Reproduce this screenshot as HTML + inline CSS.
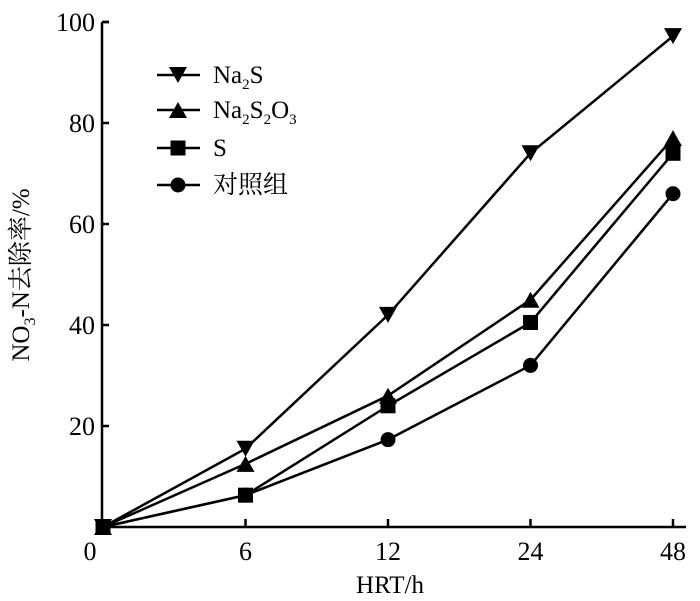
<!DOCTYPE html>
<html><head><meta charset="utf-8"><style>
body{margin:0;background:#fff}
svg{display:block}
text,tspan{font-family:"Liberation Serif","Noto Serif CJK SC",serif}
</style></head><body>
<svg id="chart" width="700" height="601" viewBox="0 0 700 601"></svg>
<script>
const categories=["0","6","12","24","48"];
const yTicks=[20,40,60,80,100];
const na2s=[0,15.5,42,74,97.2];
const na2s2o3=[0,12.5,26,45,77];
const sulfur=[0,6.3,24,40.5,74];
const control=[0,6.3,17.3,32,66];
const names=["Na2S","Na2S2O3","S","对照组"];
const svg=document.getElementById('chart');
const NS="http://www.w3.org/2000/svg";
const FF='"Liberation Serif","Noto Serif CJK SC",serif';
const X0=102,Y0=527;
function xs(i){return 103+i*142.5;}
function ys(v){return Y0-v*5.05;}
function mk(t,a,p){const e=document.createElementNS(NS,t);for(const k in a)e.setAttribute(k,a[k]);if(t=='text')e.setAttribute('font-family',FF);(p||svg).appendChild(e);return e;}
let ax=mk('path',{d:`M${X0} ${ys(100)}H109M${X0} ${ys(100)}V${Y0}H686`,stroke:'#000','stroke-width':2.5,fill:'none'});


yTicks.forEach(v=>{
 const t=mk('line',{x1:X0,x2:109,y1:ys(v),y2:ys(v),stroke:'#000','stroke-width':2.5});
 
 
 const l=mk('text',{x:95,y:ys(v)+9,'text-anchor':'end','font-size':26});
 l.textContent=v;
 
 
});
categories.forEach((c,i)=>{
 if(i>0){const t=mk('line',{x1:xs(i),x2:xs(i),y1:Y0,y2:Y0-8,stroke:'#000','stroke-width':2.5});
 
 }
 const l=mk('text',{x:i==0?90:xs(i),y:560,'text-anchor':'middle','font-size':26});
 l.textContent=c;
 
 
});
let xt=mk('text',{x:390,y:593,'text-anchor':'middle','font-size':25});xt.textContent='HRT/h';


let yt=mk('text',{transform:'translate(29,275) rotate(-90)','text-anchor':'middle','font-size':25});
yt.innerHTML='NO<tspan font-size="16" dy="6">3</tspan><tspan dy="-6">-N去除率/%</tspan>';


function marker(type,x,y,g){
 if(type==0)return mk('path',{d:`M${x-9} ${y-8}H${x+9}L${x} ${y+8}Z`},g);
 if(type==1)return mk('path',{d:`M${x-9} ${y+8}H${x+9}L${x} ${y-8}Z`},g);
 if(type==2)return mk('rect',{x:x-7.5,y:y-7.5,width:15,height:15},g);
 return mk('circle',{cx:x,cy:y,r:7.5},g);
}
const series=[control,sulfur,na2s2o3,na2s];const types=[3,2,1,0];const sn=['series-control','series-s','series-na2s2o3','series-na2s'];
series.forEach((d,k)=>{
 const g=mk('g',{fill:'#000'});
 
 
 mk('polyline',{points:d.map((v,i)=>xs(i)+','+ys(v)).join(' '),stroke:'#000','stroke-width':2.5,fill:'none'},g);
 d.forEach((v,i)=>{const m=marker(types[k],xs(i),ys(v),g);
 
 });
});
const lg=mk('g',{fill:'#000'});


const ly=[75,110,148,185];
const labels=['Na<tspan font-size="15" dy="6">2</tspan><tspan dy="-6">S</tspan>',
'Na<tspan font-size="15" dy="6">2</tspan><tspan dy="-6">S</tspan><tspan font-size="15" dy="6">2</tspan><tspan dy="-6">O</tspan><tspan font-size="15" dy="6">3</tspan>',
'S','对照组'];
[0,1,2,3].forEach(k=>{
 const e=mk('g',{},lg);
 
 
 mk('line',{x1:157,x2:200,y1:ly[k],y2:ly[k],stroke:'#000','stroke-width':2.5},e);
 marker(k,178,ly[k],e);
 const t=mk('text',{x:213,y:ly[k]+8,'font-size':25},e);t.innerHTML=labels[k];
});
</script>
</body></html>
